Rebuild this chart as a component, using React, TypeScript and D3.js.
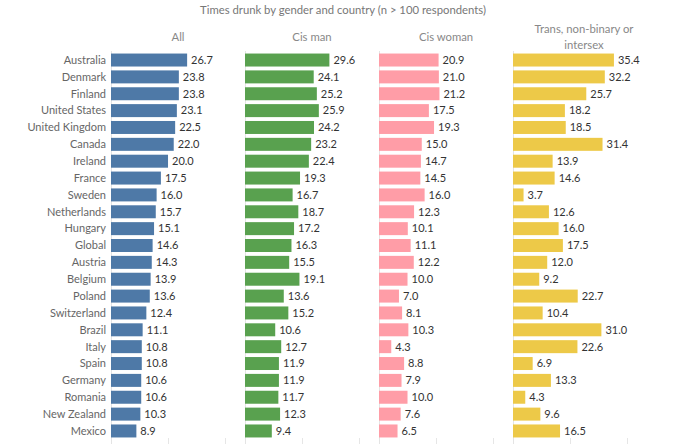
import React from "react";
import * as d3 from "d3";

const countries = ["Australia","Denmark","Finland","United States","United Kingdom","Canada","Ireland","France","Sweden","Netherlands","Hungary","Global","Austria","Belgium","Poland","Switzerland","Brazil","Italy","Spain","Germany","Romania","New Zealand","Mexico"];
const allValues = [26.7,23.8,23.8,23.1,22.5,22.0,20.0,17.5,16.0,15.7,15.1,14.6,14.3,13.9,13.6,12.4,11.1,10.8,10.8,10.6,10.6,10.3,8.9];
const cisMan = [29.6,24.1,25.2,25.9,24.2,23.2,22.4,19.3,16.7,18.7,17.2,16.3,15.5,19.1,13.6,15.2,10.6,12.7,11.9,11.9,11.7,12.3,9.4];
const cisWoman = [20.9,21.0,21.2,17.5,19.3,15.0,14.7,14.5,16.0,12.3,10.1,11.1,12.2,10.0,7.0,8.1,10.3,4.3,8.8,7.9,10.0,7.6,6.5];
const trans = [35.4,32.2,25.7,18.2,18.5,31.4,13.9,14.6,3.7,12.6,16.0,17.5,12.0,9.2,22.7,10.4,31.0,22.6,6.9,13.3,4.3,9.6,16.5];
const panelTitles = [["All"],["Cis man"],["Cis woman"],["Trans, non-binary or","intersex"]];
const colors = ["#4e79a7","#59a14f","#ff9da7","#edc948"];
const gridTicks = [20, 40];
const title = "Times drunk by gender and country (n > 100 respondents)";

export default function App() {
  const W = 691, H = 448;
  const series = [allValues, cisMan, cisWoman, trans];
  const panelW = 134;
  const panelX0 = 111;
  const x = d3.scaleLinear().domain([0, 47]).range([0, panelW]);
  const y = d3.scaleBand<string>().domain(countries).range([51.6, 439.4]).paddingInner(0.23).paddingOuter(0.115);
  const font = "Lato, sans-serif";
  return (
    <div style={{ position: "absolute", left: 0, top: 0 }}>
      <svg width={W} height={H} style={{ display: "block" }} fontFamily={font}>
        <rect width={W} height={H} fill="#fff" />
        <text x={343} y={14} textAnchor="middle" fontSize={11.3} fill="#777">{title}</text>
        {countries.map((c) => (
          <text key={c} x={106} y={(y(c) as number) + y.bandwidth() / 2} dy="0.35em" textAnchor="end" fontSize={11} fill="#666">{c}</text>
        ))}
        {series.map((vals, si) => {
          const px = panelX0 + si * panelW;
          const t = panelTitles[si];
          return (
            <g key={si} transform={`translate(${px},0)`}>
              {t.map((line, li) => (
                <text key={li} x={panelW / 2 + (si === 3 ? 4 : 0)} y={t.length === 1 ? 41 : 33 + li * 16} textAnchor="middle" fontSize={11.3} fill="#888">{line}</text>
              ))}
              <line x1={0.5} x2={0.5} y1={51} y2={444} stroke="#e4e4e4" strokeWidth={1} />
              {gridTicks.map((tk) => (
                <line key={tk} x1={Math.round(x(tk)) + 0.5} x2={Math.round(x(tk)) + 0.5} y1={438} y2={444} stroke="#e6e6e6" />
              ))}
              {vals.map((v, i) => (
                <g key={i}>
                  <rect x={0} y={y(countries[i])} width={x(v)} height={y.bandwidth()} fill={colors[si]} />
                  <text x={x(v) + 4} y={(y(countries[i]) as number) + y.bandwidth() / 2} dy="0.35em" fontSize={11} fill="#333">{v.toFixed(1)}</text>
                </g>
              ))}
            </g>
          );
        })}
      </svg>
    </div>
  );
}
